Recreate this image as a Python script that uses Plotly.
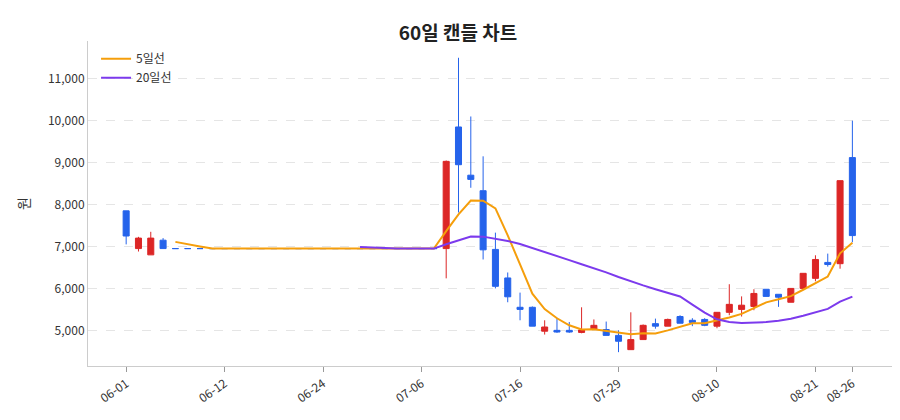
import pandas as pd
import plotly.graph_objects as go

dates = [
    "06-01", "06-02", "06-03", "06-04", "06-05", "06-07", "06-08", "06-09", "06-12",
    "06-13", "06-14", "06-15", "06-16", "06-19", "06-20", "06-21", "06-24",
    "06-25", "06-26", "06-27", "06-28", "07-01", "07-03", "07-04", "07-06",
    "07-07", "07-08", "07-09", "07-10", "07-11", "07-12", "07-15", "07-16",
    "07-17", "07-18", "07-19", "07-22", "07-23", "07-24", "07-25", "07-29",
    "07-30", "07-31", "08-01", "08-02", "08-05", "08-06", "08-07", "08-10",
    "08-12", "08-13", "08-14", "08-16", "08-17", "08-19", "08-20", "08-21",
    "08-22", "08-23", "08-26",
]

flat = [6950] * 22  # idx 4..25, no trading range

opens = [7850, 6950, 6800, 7150] + flat + [
    6950, 9850, 8700, 8330, 6930, 6250, 5550, 5550, 4980, 5000, 5000, 4950,
    5020, 5020, 4880, 4540, 4780, 5160, 5100, 5330, 5240, 5260, 5100, 5430,
    5500, 5570, 5980, 5860, 5670, 6000, 6240, 6620, 6590, 9120,
]
closes = [7250, 7200, 7200, 6950] + flat + [
    9030, 8950, 8600, 6920, 6050, 5800, 5500, 5100, 5080, 4960, 4960, 5010,
    5120, 4880, 4740, 4780, 5120, 5100, 5260, 5170, 5190, 5120, 5430, 5620,
    5600, 5880, 5810, 5790, 6000, 6360, 6690, 6570, 8570, 7260,
]
highs = [7850, 7230, 7350, 7200] + flat + [
    9050, 11500, 10100, 9150, 7330, 6380, 5900, 5570, 5240, 5300, 5200, 5550,
    5260, 5210, 5000, 5430, 5140, 5280, 5280, 5360, 5290, 5290, 5430, 6100,
    5810, 5980, 5980, 5860, 6000, 6360, 6790, 6830, 8570, 10000,
]
lows = [7050, 6880, 6800, 6950] + flat + [
    6240, 7810, 8400, 6690, 6000, 5670, 5240, 5100, 4900, 4940, 4940, 4930,
    5020, 4880, 4480, 4540, 4780, 5040, 5100, 5170, 5100, 5100, 5050, 5360,
    5330, 5480, 5810, 5560, 5670, 6000, 6170, 6520, 6470, 7100,
]

df = pd.DataFrame(dict(date=dates, open=opens, high=highs, low=lows, close=closes))
df["ma5"] = df["close"].rolling(5).mean()
df["ma20"] = df["close"].rolling(20).mean()

tick_idx = [0, 8, 16, 24, 32, 40, 48, 56, 59]

fig = go.Figure()
fig.add_trace(go.Candlestick(
    x=df["date"], open=df["open"], high=df["high"], low=df["low"], close=df["close"],
    increasing=dict(line=dict(color="#dc2626", width=1), fillcolor="#dc2626"),
    decreasing=dict(line=dict(color="#2563eb", width=1), fillcolor="#2563eb"),
    whiskerwidth=0, showlegend=False, name="캔들",
))
fig.add_trace(go.Scatter(x=df["date"], y=df["ma5"], mode="lines", name="5일선",
                         line=dict(color="#f59e0b", width=2)))
fig.add_trace(go.Scatter(x=df["date"], y=df["ma20"], mode="lines", name="20일선",
                         line=dict(color="#7c3aed", width=2)))

fig.update_layout(
    width=900, height=420,
    margin=dict(l=80, r=15, t=33, b=62),
    paper_bgcolor="white", plot_bgcolor="white",
    font=dict(family="Noto Sans CJK KR", size=12, color="#333"),
    title=dict(text="<b>60일 캔들 차트</b>", x=0.5, y=0.955, font=dict(size=19, color="#222")),
    legend=dict(x=0.01, y=0.99, bgcolor="rgba(255,255,255,0)"),
    xaxis=dict(
        type="category", rangeslider=dict(visible=False),
        range=[-3.1, 62.3],
        tickmode="array", tickvals=[dates[i] for i in tick_idx],
        ticktext=[dates[i] for i in tick_idx], tickangle=-35,
        showgrid=False, showline=True, linecolor="#ccc", ticks="outside", tickcolor="#999",
    ),
    yaxis=dict(
        title="원", range=[4150, 11900], tickformat=",", dtick=1000,
        gridcolor="#e5e5e5", griddash="dash", showline=True, linecolor="#ccc",
        zeroline=False,
    ),
)

fig.write_html("out.html")
